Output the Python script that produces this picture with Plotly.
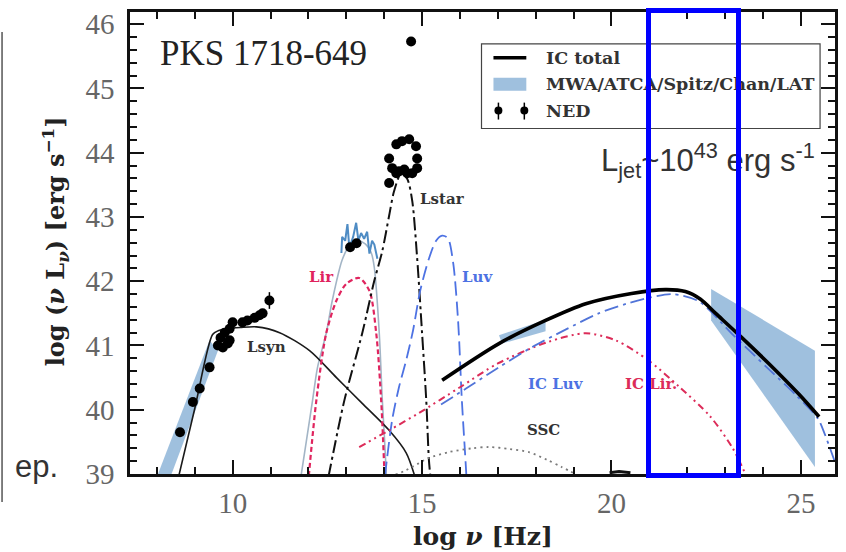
import plotly.graph_objects as go

# ---------------- data (x = log nu [Hz], y = log nuLnu [erg/s]) ----------------
# synchrotron model
lsyn_x = [8.55, 9.0, 9.47, 9.62, 9.84, 10.2, 10.63, 11.24, 12.03, 12.74, 13.42, 14.13, 14.58, 14.80]
lsyn_y = [38.9, 40.02, 41.17, 41.23, 41.26, 41.28, 41.29, 41.20, 40.92, 40.50, 40.10, 39.68, 39.33, 38.98]
# radio band (MWA/ATCA)
radio_band_x = [7.95, 9.39, 9.61, 8.31]
radio_band_y = [38.88, 41.08, 40.92, 38.88]
# IR model (grey)
irmod_x = [11.80, 12.11, 12.24, 12.47, 12.63, 12.89, 13.08, 13.29, 13.50, 13.66, 13.74, 13.87, 13.95, 14.00, 14.06]
irmod_y = [38.95, 40.15, 40.66, 41.19, 41.70, 42.33, 42.55, 42.63, 42.58, 42.44, 42.21, 41.19, 40.15, 39.64, 38.95]
# Spitzer IR spectrum
spitz_x = [12.87, 12.89, 12.97, 13.03, 13.08, 13.18, 13.26, 13.32, 13.39, 13.47, 13.55, 13.61, 13.68, 13.74, 13.82]
spitz_y = [42.44, 42.69, 42.63, 42.89, 42.52, 42.69, 42.91, 42.63, 42.75, 42.66, 42.77, 42.43, 42.63, 42.57, 42.35]
# Lir (red dashed)
lir_x = [12.01, 12.21, 12.47, 12.74, 13.00, 13.34, 13.61, 13.79, 13.92, 14.01]
lir_y = [38.97, 40.15, 41.19, 41.70, 41.96, 42.05, 41.85, 41.19, 40.15, 38.97]
# Lstar (black dash-dot)
lstar_x = [12.53, 12.95, 13.42, 13.74, 13.95, 14.13, 14.26, 14.45, 14.61, 14.74, 14.87, 15.00, 15.11, 15.18, 15.22]
lstar_y = [38.96, 40.15, 41.19, 42.01, 42.47, 43.02, 43.40, 43.68, 43.59, 43.25, 42.36, 41.19, 40.15, 39.22, 38.96]
# Luv (blue dashed)
luv_x = [14.02, 14.21, 14.39, 14.58, 14.76, 14.95, 15.18, 15.37, 15.53, 15.68, 15.82, 15.95, 16.05, 16.13, 16.17]
luv_y = [38.97, 39.84, 40.35, 40.77, 41.23, 41.85, 42.35, 42.63, 42.71, 42.67, 42.29, 41.39, 40.15, 39.37, 38.97]
# IC total (thick black)
ictot_x = [15.53, 17.03, 18.26, 19.32, 20.53, 21.42, 21.95, 22.35, 22.75, 23.30, 24.15, 24.95, 25.48]
ictot_y = [40.46, 41.03, 41.39, 41.65, 41.81, 41.87, 41.84, 41.72, 41.50, 41.20, 40.72, 40.24, 39.89]
# IC Luv (blue dash-dot)
icluv_x = [15.50, 16.16, 17.00, 17.89, 18.80, 19.66, 20.40, 20.97, 21.60, 22.30, 23.20, 24.10, 24.90, 25.45, 25.63, 25.92]
icluv_y = [40.08, 40.33, 40.65, 40.97, 41.25, 41.50, 41.65, 41.74, 41.80, 41.69, 41.17, 40.66, 40.21, 39.86, 39.62, 39.15]
# IC Lir (red dash-dot-dot)
iclir_x = [13.34, 14.13, 14.92, 16.00, 17.00, 18.30, 19.32, 20.11, 20.97, 21.80, 22.60, 23.20, 23.55]
iclir_y = [39.42, 39.68, 39.95, 40.35, 40.72, 41.05, 41.19, 41.08, 40.77, 40.35, 39.90, 39.40, 38.98]
# SSC (grey dotted)
ssc_x = [14.30, 14.58, 14.92, 15.18, 15.70, 16.32, 16.76, 17.30, 17.82, 18.30, 18.68, 19.08]
ssc_y = [38.99, 39.06, 39.17, 39.25, 39.34, 39.40, 39.42, 39.39, 39.34, 39.22, 39.11, 38.99]
# faint component at bottom edge
low_x = [19.95, 20.20, 20.50]
low_y = [39.02, 39.04, 39.02]
# Chandra X-ray band
xray_band_x = [17.03, 18.26, 18.26, 17.11]
xray_band_y = [41.16, 41.40, 41.22, 41.03]
# Fermi-LAT bowtie
lat_band_x = [22.63, 25.37, 25.37, 22.63]
lat_band_y = [41.88, 40.92, 39.11, 41.39]
# NED photometry
ned_x = [8.61, 8.95, 9.13, 9.39, 9.61, 9.68, 9.74, 9.79, 9.87, 9.92, 9.92, 10.00, 10.26, 10.39, 10.58,
         10.71, 10.79, 10.97, 13.10, 13.27,
         14.32, 14.47, 14.66, 14.84, 14.13, 14.87, 14.21, 14.32, 14.39, 14.53, 14.61, 14.74, 14.87, 14.13,
         14.71]
ned_y = [39.65, 40.12, 40.33, 40.66, 41.00, 41.12, 40.97, 41.20, 41.03, 41.26, 41.08, 41.36, 41.36, 41.39, 41.43,
         41.47, 41.50, 41.70, 42.53, 42.59,
         44.13, 44.18, 44.21, 44.10, 43.91, 43.91, 43.76, 43.68, 43.71, 43.74, 43.68, 43.68, 43.76, 43.53,
         45.73]
ned_err = [0.03] * 17 + [0.13] + [0.03] * 2 + [0.03] * 14 + [0.0]

# curve labels
curve_labels = ["Lsyn", "Lstar", "Lir", "Luv", "IC Luv", "IC Lir.", "SSC"]
label_x = [10.89, 15.55, 12.34, 16.47, 18.53, 21.05, 18.21]
label_y = [40.97, 43.28, 42.07, 42.07, 40.40, 40.40, 39.68]
label_colors = ["#333333", "#333333", "#e0245e", "#4d72e3", "#4d72e3", "#dc2c59", "#333333"]

legend_labels = ["IC total", "MWA/ATCA/Spitz/Chan/LAT", "NED"]

# ---------------- styling ----------------
SERIF_B = "DejaVu Serif"
SERIF = "Liberation Serif"
SANS = "Liberation Sans"
BAND = "rgba(80,140,195,0.55)"

L, R, T, B = 130, 838, 10, 474
W, H = 846, 552


def px_x(p):
    return (p - L) / (R - L)


def px_y(p):
    return 1 - (p - T) / (B - T)


fig = go.Figure()

def band(x, y):
    fig.add_trace(go.Scatter(x=x + [x[0]], y=y + [y[0]], fill="toself", fillcolor=BAND,
                             line=dict(width=0), mode="lines", showlegend=False, hoverinfo="skip"))

def curve(x, y, color, width, dash="solid", smooth=True):
    fig.add_trace(go.Scatter(x=x, y=y, mode="lines",
                             line=dict(color=color, width=width, dash=dash,
                                       shape="spline" if smooth else "linear", smoothing=0.8),
                             showlegend=False, hoverinfo="skip"))

band(radio_band_x, radio_band_y)
band(xray_band_x, xray_band_y)
band(lat_band_x, lat_band_y)

curve(irmod_x, irmod_y, "#a3b5c6", 1.6)
curve(spitz_x, spitz_y, "#4f8cc4", 2.0, smooth=False)
curve(lsyn_x, lsyn_y, "#1a1a1a", 1.6)
curve(lir_x, lir_y, "#e0245e", 2.2, dash="5px,3px")
curve(lstar_x, lstar_y, "#111111", 2.0, dash="13px,4px,3px,4px")
curve(luv_x, luv_y, "#4d72e3", 1.8, dash="14px,6px")
curve(ssc_x, ssc_y, "#7a7a7a", 1.8, dash="2px,4px")
curve(iclir_x, iclir_y, "#dc2c59", 2.0, dash="7px,4px,2px,4px,2px,4px")
curve(icluv_x, icluv_y, "#5174d8", 1.8, dash="14px,5px,3px,5px")
curve(low_x, low_y, "#111111", 3, smooth=False)
curve(ictot_x, ictot_y, "#000000", 3.6)

fig.add_trace(go.Scatter(x=ned_x, y=ned_y, mode="markers",
                         marker=dict(color="black", size=10),
                         error_y=dict(type="data", array=ned_err, color="black", thickness=1.5, width=0),
                         showlegend=False, hoverinfo="skip"))

annotations = []
for t, x, y, c in zip(curve_labels, label_x, label_y, label_colors):
    annotations.append(dict(x=x, y=y, xref="x", yref="y", text=t, showarrow=False,
                            xanchor="center", yanchor="middle",
                            font=dict(family=SERIF_B, size=15, color=c, weight="bold")))

annotations.append(dict(x=8.03, y=45.54, xref="x", yref="y", xanchor="left", yanchor="middle",
                        text="PKS 1718-649", showarrow=False,
                        font=dict(family=SERIF, size=35, color="#222222")))

# axis titles
annotations.append(dict(x=px_x(484), y=px_y(537), xref="paper", yref="paper",
                        xanchor="center", yanchor="middle",
                        text="log <i>ν</i> [Hz]", showarrow=False,
                        font=dict(family=SERIF_B, size=25, color="#222222", weight="bold")))
annotations.append(dict(x=px_x(55), y=px_y(240), xref="paper", yref="paper", textangle=-90,
                        xanchor="center", yanchor="middle",
                        text="log (<i>ν</i> L<sub><i>ν</i></sub>) [erg s<sup>−1</sup>]", showarrow=False,
                        font=dict(family=SERIF_B, size=24, color="#222222", weight="bold")))

# legend texts
for t, yy in zip(legend_labels, [56, 82, 109]):
    annotations.append(dict(x=px_x(546), y=px_y(yy), xref="paper", yref="paper",
                            xanchor="left", yanchor="middle",
                            text=t, showarrow=False,
                            font=dict(family=SERIF_B, size=17.5, color="#333333", weight="bold")))

# slide decorations
annotations.append(dict(x=px_x(13), y=px_y(466), xref="paper", yref="paper",
                        xanchor="left", yanchor="middle",
                        text="ep.", showarrow=False, font=dict(family=SANS, size=31, color="#333333")))
annotations.append(dict(x=px_x(601), y=px_y(159), xref="paper", yref="paper",
                        xanchor="left", yanchor="middle",
                        text="L<sub>jet</sub>~10<sup>43</sup> erg s<sup>-1</sup>", showarrow=False,
                        font=dict(family=SANS, size=31, color="#333333")))
# highlight box (drawn last so it sits over the text)
annotations.append(dict(x=px_x(696), y=px_y(242.5), xref="paper", yref="paper",
                        xanchor="center", yanchor="middle",
                        text=" ", showarrow=False, width=85, height=460,
                        borderwidth=5, borderpad=0, bordercolor="#0000ff"))

shapes = [
    # legend frame
    dict(type="rect", xref="paper", yref="paper", x0=px_x(483), x1=px_x(823), y0=px_y(127), y1=px_y(42),
         line=dict(color="#444444", width=1.2), fillcolor="white", layer="below"),
    dict(type="line", xref="paper", yref="paper", x0=px_x(495), x1=px_x(528), y0=px_y(56), y1=px_y(56),
         line=dict(color="black", width=3.5)),
    dict(type="rect", xref="paper", yref="paper", x0=px_x(495), x1=px_x(528), y0=px_y(89), y1=px_y(76),
         line=dict(width=0), fillcolor=BAND),
    # left slide edge
    dict(type="line", xref="paper", yref="paper", x0=px_x(1.5), x1=px_x(1.5), y0=px_y(502), y1=px_y(30),
         line=dict(color="#555555", width=1.5)),
]
for cx in [500, 526]:
    shapes.append(dict(type="line", xref="paper", yref="paper", x0=px_x(cx), x1=px_x(cx),
                       y0=px_y(118), y1=px_y(101), line=dict(color="black", width=1.5)))
    shapes.append(dict(type="circle", xref="paper", yref="paper", x0=px_x(cx - 4), x1=px_x(cx + 4),
                       y0=px_y(113), y1=px_y(105), line=dict(width=0), fillcolor="black"))

axis_common = dict(showline=True, linewidth=2.5, linecolor="#111111", mirror="allticks",
                   ticks="inside", ticklen=14, tickwidth=2, tickcolor="#111111",
                   showgrid=False, zeroline=False,
                   tickfont=dict(family=SERIF, size=29, color="#666666"))

fig.update_layout(
    width=W, height=H,
    margin=dict(l=L, r=W - R, t=T, b=H - B),
    paper_bgcolor="white", plot_bgcolor="white",
    showlegend=False,
    xaxis=dict(range=[7.29, 25.9], tickvals=[10, 15, 20, 25], ticklabelstandoff=1,
               minor=dict(dtick=1, tick0=0, ticks="inside", ticklen=7, tickwidth=1.5, tickcolor="#111111"),
               **axis_common),
    yaxis=dict(range=[39.0, 46.19], dtick=1, tick0=39, ticklabelstandoff=7,
               minor=dict(dtick=0.2, tick0=39, ticks="inside", ticklen=7, tickwidth=1.5, tickcolor="#111111"),
               **axis_common),
    annotations=annotations,
    shapes=shapes,
)

fig.write_html("out.html", config={"displayModeBar": False},
               post_script="document.body.style.margin='0px';")
